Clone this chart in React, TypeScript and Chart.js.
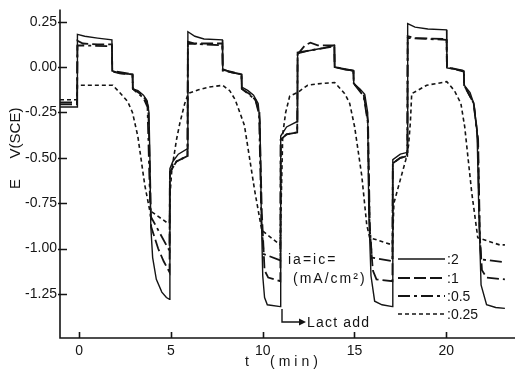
import React, { useEffect, useRef } from "react";
import { Chart, registerables } from "chart.js";

Chart.register(...registerables);

// ---- data (t in min, E in V vs SCE) ----
const seriesLabels = ["2", "1", "0.5", "0.25"];

const s2T = [-1.05, -0.12, -0.1, 0.3, 1.0, 1.78, 1.8, 2.2, 2.9, 2.92, 3.2, 3.5, 3.7, 3.8, 3.85, 3.9, 4.0, 4.2, 4.5, 4.75, 4.92,
  4.94, 5.1, 5.4, 5.9, 5.92, 6.3, 6.8, 7.8, 7.82, 8.3, 8.84, 8.86, 9.2, 9.5, 9.75, 9.85, 9.92, 10.0, 10.1, 10.25, 10.96,
  10.98, 11.3, 11.88, 11.9, 12.5, 13.3, 13.9, 13.92, 14.5, 14.94, 14.96, 15.3, 15.56, 15.72, 15.78, 15.9, 16.1, 16.5, 17.07,
  17.09, 17.5, 17.88, 17.9, 18.3, 19.0, 20.02, 20.04, 20.96, 20.98, 21.3, 21.5, 21.68, 21.78, 21.9, 22.2, 22.7, 23.2];
const s2V = [-0.22, -0.22, 0.18, 0.17, 0.16, 0.15, -0.02, -0.035, -0.04, -0.12, -0.13, -0.155, -0.185, -0.25, -0.5, -0.88, -1.05, -1.17, -1.24, -1.27, -1.28,
  -0.56, -0.52, -0.48, -0.45, 0.195, 0.17, 0.155, 0.15, -0.01, -0.03, -0.04, -0.11, -0.13, -0.155, -0.2, -0.3, -0.8, -1.15, -1.27, -1.31, -1.32,
  -0.38, -0.33, -0.30, 0.075, 0.09, 0.105, 0.12, 0.0, -0.015, -0.02, -0.09, -0.12, -0.15, -0.25, -0.8, -1.15, -1.29, -1.31, -1.32,
  -0.51, -0.48, -0.47, 0.24, 0.22, 0.21, 0.205, -0.005, -0.02, -0.10, -0.14, -0.2, -0.35, -0.8, -1.2, -1.31, -1.325, -1.33];

const s1T = [-1.05, -0.12, -0.1, 0.2, 1.0, 1.78, 1.8, 2.3, 2.9, 2.92, 3.3, 3.6, 3.76, 3.86, 3.92, 4.3, 4.6, 4.92,
  4.94, 5.3, 5.9, 5.92, 6.3, 7.8, 7.82, 8.84, 8.86, 9.3, 9.6, 9.82, 9.95, 10.1, 10.3, 10.96,
  10.98, 11.3, 11.88, 11.9, 12.3, 12.6, 13.0, 13.9, 13.92, 14.94, 14.96, 15.5, 15.74, 15.84, 16.0, 16.2, 17.07,
  17.09, 17.5, 17.88, 17.9, 18.3, 20.02, 20.04, 20.96, 20.98, 21.5, 21.74, 21.84, 21.95, 22.2, 23.2];
const s1V = [-0.205, -0.205, 0.145, 0.13, 0.125, 0.125, -0.025, -0.035, -0.04, -0.12, -0.145, -0.175, -0.22, -0.6, -0.88, -1.0, -1.07, -1.13,
  -0.58, -0.52, -0.49, 0.14, 0.13, 0.13, -0.015, -0.04, -0.12, -0.15, -0.18, -0.25, -0.8, -1.12, -1.16, -1.18,
  -0.40, -0.37, -0.36, 0.07, 0.12, 0.135, 0.12, 0.12, 0.0, -0.02, -0.09, -0.15, -0.3, -0.9, -1.12, -1.17, -1.18,
  -0.53, -0.5, -0.49, 0.17, 0.16, 0.155, 0.0, -0.02, -0.10, -0.2, -0.4, -0.95, -1.12, -1.16, -1.17];

const s05T = [-1.05, -0.12, -0.1, 1.78, 1.8, 2.9, 2.92, 3.5, 3.72, 3.82, 3.88, 4.85, 4.92,
  4.94, 5.3, 5.9, 5.92, 7.8, 7.82, 8.84, 8.86, 9.6, 9.8, 9.93, 10.05, 10.96,
  10.98, 11.3, 11.88, 11.9, 13.9, 13.92, 14.94, 14.96, 15.5, 15.72, 15.82, 15.95, 17.07,
  17.09, 17.5, 17.88, 17.9, 20.02, 20.04, 20.96, 20.98, 21.5, 21.72, 21.82, 21.9, 23.2];
const s05V = [-0.195, -0.195, 0.12, 0.115, -0.02, -0.04, -0.12, -0.17, -0.22, -0.6, -0.82, -1.0, -1.01,
  -0.58, -0.52, -0.49, 0.13, 0.12, -0.02, -0.04, -0.12, -0.18, -0.26, -0.85, -1.03, -1.065,
  -0.40, -0.37, -0.36, 0.08, 0.115, 0.0, -0.02, -0.09, -0.16, -0.3, -0.85, -1.05, -1.07,
  -0.53, -0.5, -0.49, 0.16, 0.15, 0.0, -0.025, -0.10, -0.2, -0.4, -0.9, -1.06, -1.075];

const s025T = [-1.05, -0.12, -0.1, 1.83, 2.2, 2.64, 2.9, 3.19, 3.57, 3.84, 4.82, 4.92,
  4.95, 5.05, 5.3, 5.48, 5.75, 5.95, 6.5, 7.1, 7.82, 8.2, 8.5, 9.0, 9.56, 9.95, 10.96,
  10.98, 11.05, 11.09, 11.25, 11.47, 11.9, 12.45, 13.2, 13.92, 14.47, 14.74, 15.01, 15.4, 15.67, 15.83, 17.07,
  17.1, 17.15, 17.5, 17.8, 17.95, 18.05, 18.12, 18.5, 18.94, 19.5, 20.03, 20.45, 20.8, 21.01, 21.39, 21.72, 22.92, 23.2];
const s025V = [-0.18, -0.18, -0.10, -0.10, -0.14, -0.19, -0.25, -0.38, -0.65, -0.79, -0.86, -0.86,
  -0.7, -0.56, -0.4, -0.31, -0.2, -0.145, -0.125, -0.11, -0.10, -0.13, -0.18, -0.32, -0.68, -0.9, -0.98,
  -0.85, -0.55, -0.37, -0.25, -0.16, -0.14, -0.10, -0.09, -0.085, -0.146, -0.2, -0.33, -0.6, -0.87, -0.94, -0.98,
  -0.9, -0.75, -0.62, -0.51, -0.43, -0.3, -0.146, -0.125, -0.10, -0.09, -0.08, -0.13, -0.2, -0.33, -0.69, -0.94, -0.98, -0.98];

const xTickValues = [0, 5, 10, 15, 20];
const yTickValues = [-1.25, -1.0, -0.75, -0.5, -0.25, 0, 0.25];

const INK = "#141414";
const FONT = "'Liberation Sans', Arial, sans-serif";

const dashes = [[], [12, 4], [12, 4, 3, 4], [4, 3]];
const widths = [1.4, 1.8, 1.8, 1.6];

const toPts = (T: number[], V: number[]) => T.map((t, i) => ({ x: t, y: V[i] }));

const overlay = {
  id: "overlay",
  afterDraw(chart: any) {
    const { ctx, chartArea: a, scales } = chart;
    const x = scales.x;
    const y = scales.y;
    ctx.save();
    ctx.strokeStyle = INK;
    ctx.fillStyle = INK;
    ctx.lineWidth = 1.6;
    ctx.setLineDash([]);
    // axes
    ctx.beginPath();
    ctx.moveTo(a.left, a.top - 2);
    ctx.lineTo(a.left, a.bottom);
    ctx.lineTo(a.right, a.bottom);
    ctx.stroke();
    // ticks
    ctx.beginPath();
    yTickValues.forEach((v) => {
      const py = Math.round(y.getPixelForValue(v)) + 0.5;
      ctx.moveTo(a.left - 2, py);
      ctx.lineTo(a.left + 7, py);
    });
    xTickValues.forEach((v) => {
      const px = Math.round(x.getPixelForValue(v)) + 0.5;
      ctx.moveTo(px, a.bottom);
      ctx.lineTo(px, a.bottom - 6);
    });
    ctx.stroke();

    // axis titles
    ctx.textBaseline = "middle";
    ctx.textAlign = "center";
    ctx.font = `15px ${FONT}`;
    ctx.save();
    ctx.translate(16, 184);
    ctx.rotate(-Math.PI / 2);
    ctx.fillText("E", 0, 0);
    ctx.restore();
    ctx.save();
    ctx.translate(16, 133);
    ctx.rotate(-Math.PI / 2);
    ctx.fillText("V(SCE)", 0, 0);
    ctx.restore();

    ctx.font = `14px ${FONT}`;
    ctx.textAlign = "left";
    ctx.fillText("t", 245, 362);
    (ctx as any).letterSpacing = "4px";
    ctx.fillText("(min)", 270, 362);

    // legend
    (ctx as any).letterSpacing = "2px";
    ctx.fillText("ia=ic=", 288, 260);
    ctx.fillText("(mA/cm\u00B2)", 293, 279);
    (ctx as any).letterSpacing = "0px";
    const ly = [259, 278, 296, 314];
    seriesLabels.forEach((lab, i) => {
      ctx.beginPath();
      ctx.setLineDash(dashes[i]);
      ctx.lineWidth = widths[i];
      ctx.moveTo(398, ly[i]);
      ctx.lineTo(445, ly[i]);
      ctx.stroke();
      ctx.setLineDash([]);
      ctx.fillText(":" + lab, 447, ly[i] + 1);
    });

    // Lact add arrow
    ctx.lineWidth = 1.4;
    ctx.beginPath();
    ctx.moveTo(282, 309);
    ctx.lineTo(282, 322);
    ctx.lineTo(303, 322);
    ctx.stroke();
    ctx.beginPath();
    ctx.moveTo(306, 322);
    ctx.lineTo(299, 318.5);
    ctx.lineTo(299, 325.5);
    ctx.closePath();
    ctx.fill();
    (ctx as any).letterSpacing = "1.2px";
    ctx.fillText("Lact add", 307, 323);
    (ctx as any).letterSpacing = "0px";
    ctx.restore();
  },
};

export default function App() {
  const ref = useRef<HTMLCanvasElement | null>(null);
  useEffect(() => {
    if (!ref.current) return;
    const sets = [toPts(s2T, s2V), toPts(s1T, s1V), toPts(s05T, s05V), toPts(s025T, s025V)];
    const chart = new Chart(ref.current, {
      type: "line",
      data: {
        datasets: sets.map((d, i) => ({
          label: seriesLabels[i],
          data: d,
          borderColor: INK,
          borderWidth: widths[i],
          borderDash: dashes[i],
          pointRadius: 0,
          tension: 0,
          fill: false,
        })),
      },
      options: {
        responsive: false,
        animation: false,
        devicePixelRatio: 1,
        layout: { padding: { top: 5, right: 4, left: 0, bottom: 0 } },
        plugins: { legend: { display: false }, tooltip: { enabled: false } },
        scales: {
          x: {
            type: "linear",
            min: -1.05,
            max: 23.75,
            grid: { display: false, drawTicks: false },
            border: { display: false },
            afterBuildTicks: (s: any) => {
              s.ticks = xTickValues.map((v) => ({ value: v }));
            },
            afterFit: (s: any) => {
              s.height = 34;
            },
            ticks: {
              color: INK,
              font: { family: FONT, size: 14 },
              padding: 5,
              maxRotation: 0,
              callback: (v: any) => String(v),
            },
          },
          y: {
            type: "linear",
            min: -1.493,
            max: 0.307,
            grid: { display: false, drawTicks: false },
            border: { display: false },
            afterBuildTicks: (s: any) => {
              s.ticks = yTickValues.map((v) => ({ value: v }));
            },
            afterFit: (s: any) => {
              s.width = 60;
            },
            ticks: {
              color: INK,
              font: { family: FONT, size: 14 },
              padding: 3,
              callback: (v: any) => Number(v).toFixed(2),
            },
          },
        },
      },
      plugins: [overlay],
    });
    return () => chart.destroy();
  }, []);
  return (
    <div style={{ position: "absolute", left: 0, top: 0, width: 519, height: 372, background: "#fff" }}>
      <canvas ref={ref} width={519} height={372} style={{ display: "block" }} />
    </div>
  );
}
